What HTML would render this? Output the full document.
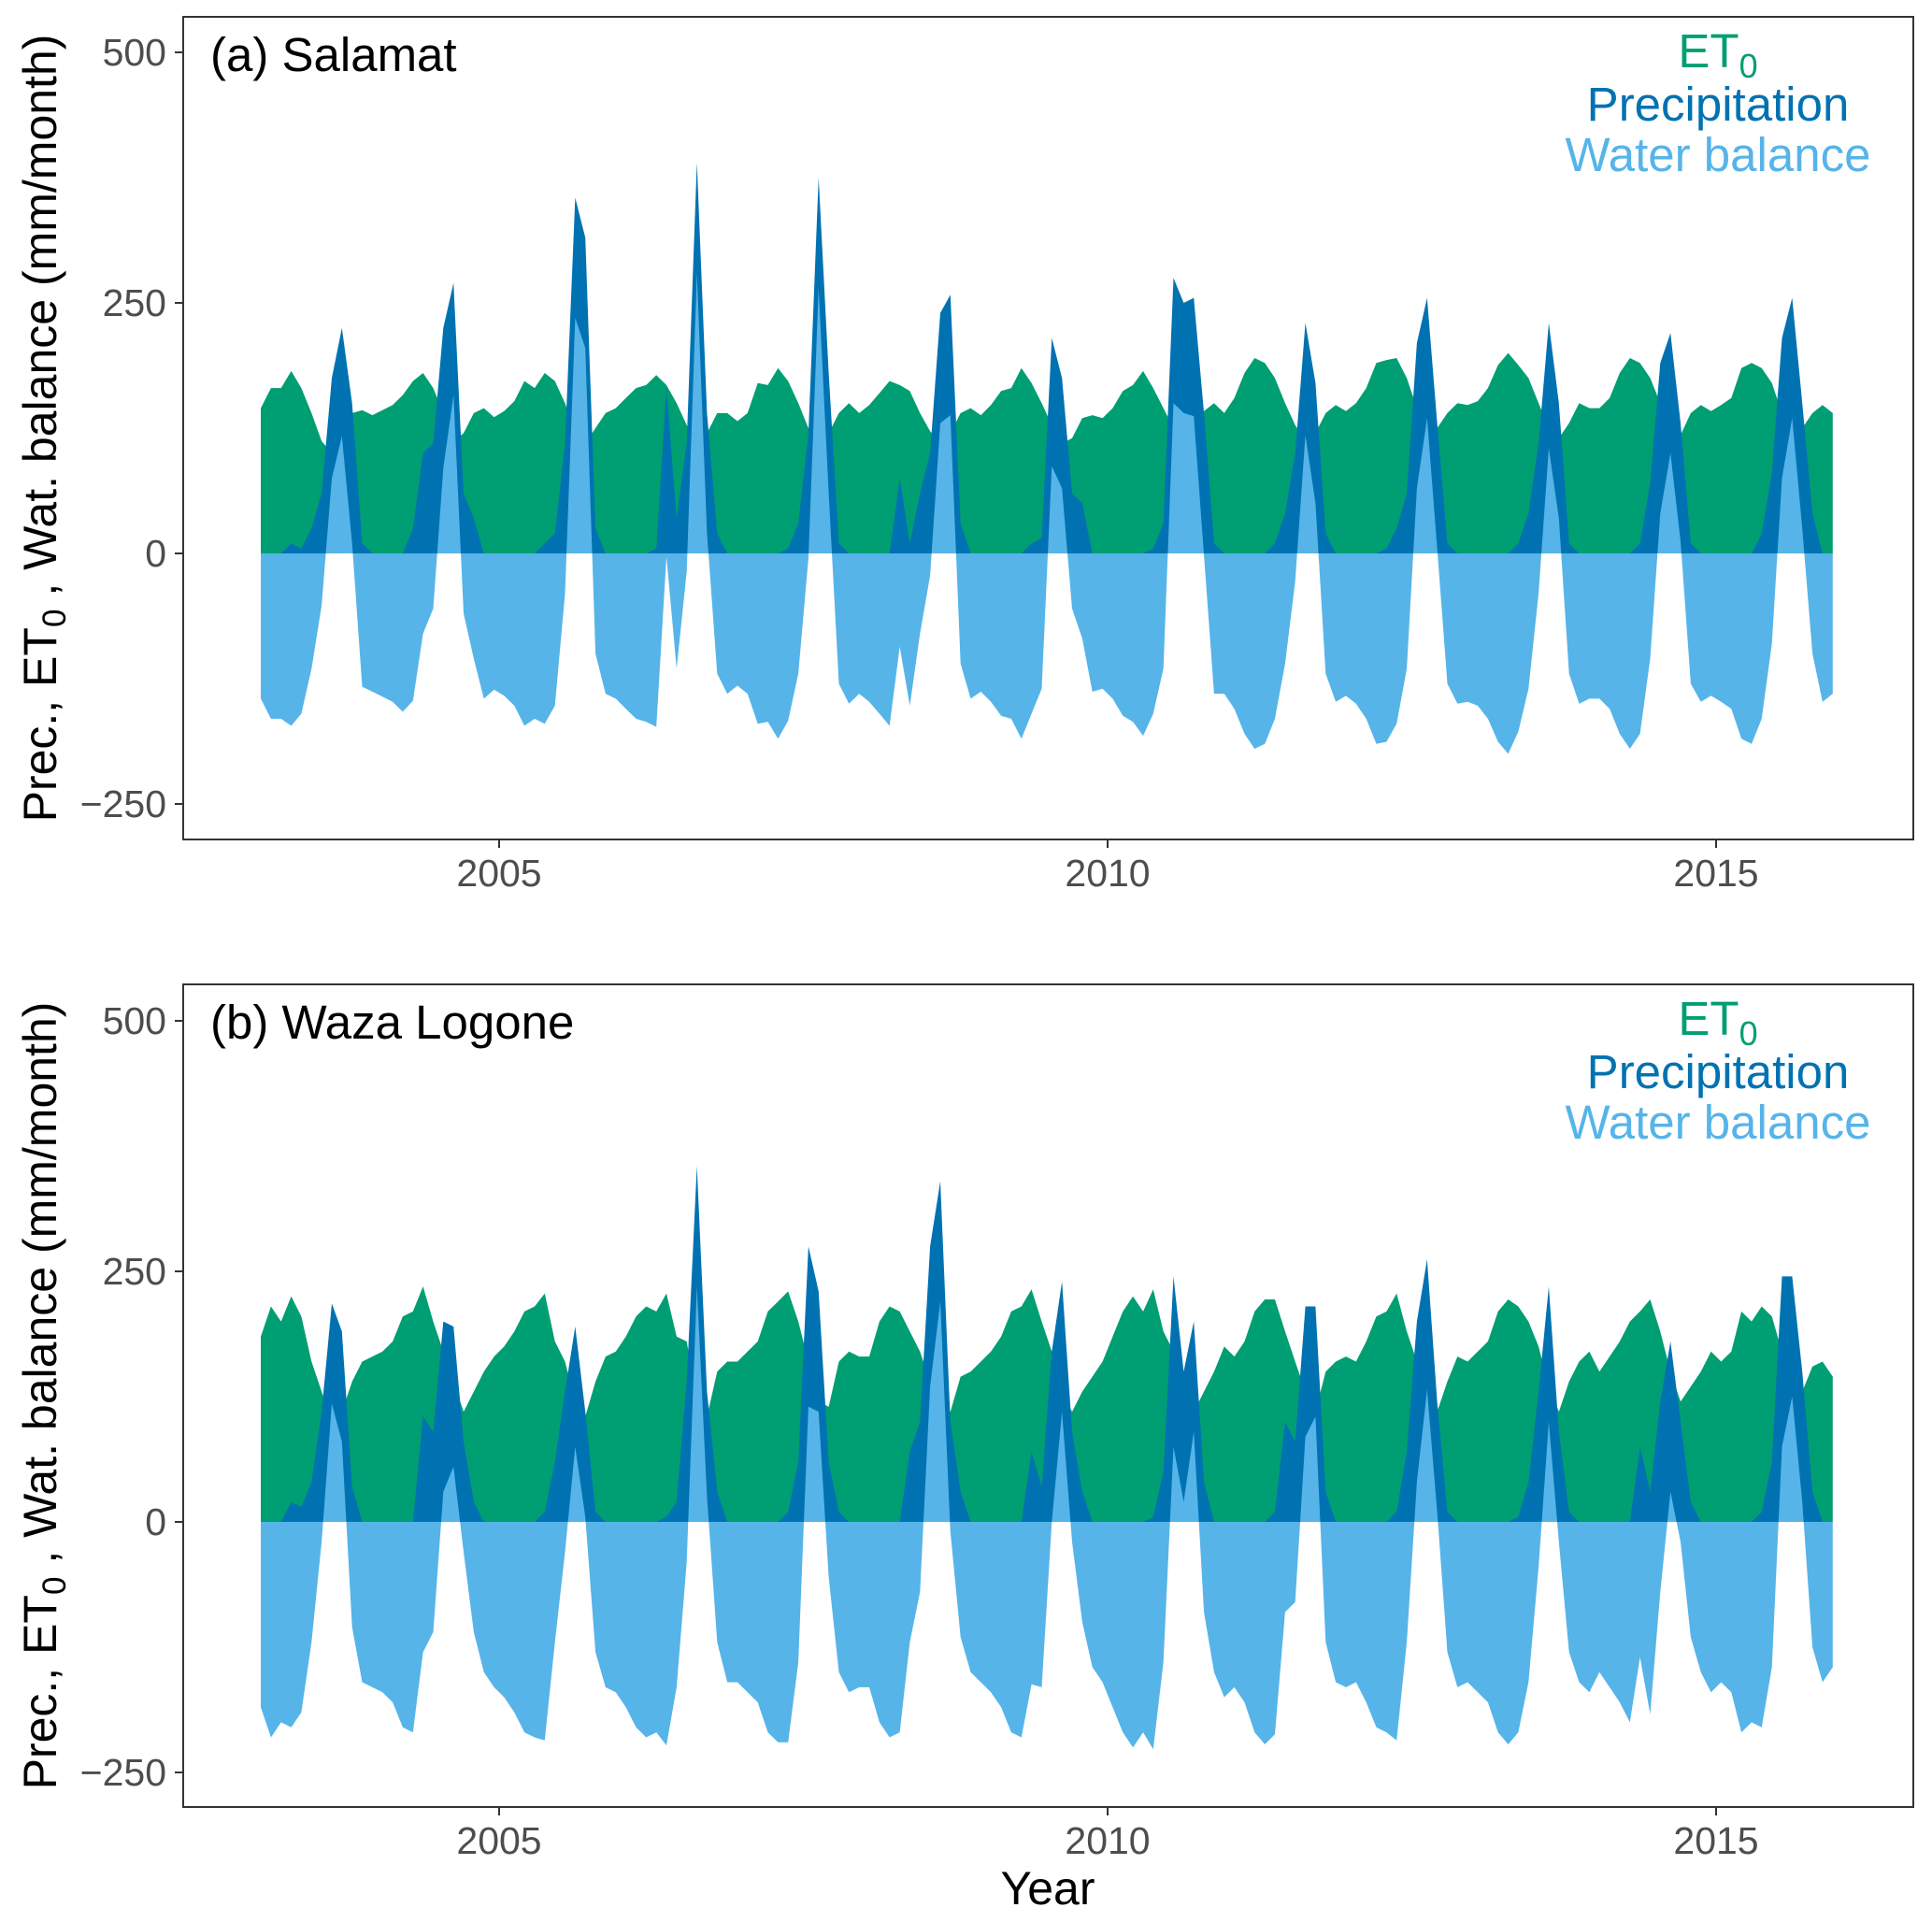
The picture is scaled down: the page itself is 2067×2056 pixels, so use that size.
<!DOCTYPE html>
<html><head><meta charset="utf-8"><style>
html,body{margin:0;padding:0;background:#fff;}
svg{display:block;font-family:"Liberation Sans",sans-serif;}
</style></head><body>
<svg id="chart" width="2067" height="2056" viewBox="0 0 2067 2056" xmlns="http://www.w3.org/2000/svg"></svg>
<script>
const startYear = 2003;
const xTicks = [2005, 2010, 2015];
const yTicks = [-250, 0, 250, 500];
const seriesNames = ["ET\u2080", "Precipitation", "Water balance"];
const panelTitles = ["(a) Salamat", "(b) Waza Logone"];

const salamatET = [
145,165,165,182,165,140,112,100,108,140,143,138,
143,148,158,172,180,165,140,112,120,140,145,136,
142,152,172,165,180,172,150,120,110,125,140,145,
155,165,168,178,168,150,128,110,120,140,140,132,
140,170,168,185,172,150,125,110,120,140,150,140,
148,160,172,168,162,140,122,110,120,140,145,138,
148,162,165,185,170,150,128,110,115,135,138,135,
145,162,168,182,165,145,125,110,118,142,150,140,
155,180,195,190,175,150,128,112,120,140,148,142,
150,165,190,193,195,175,145,120,125,140,150,148,
152,165,188,200,188,175,150,125,115,130,150,145,
145,155,180,195,190,175,150,120,118,140,148,142,
148,155,185,190,185,170,140,120,125,140,148,140];
const salamatP = [
0,0,0,10,5,25,60,175,225,150,10,0,
0,0,0,25,100,110,225,270,60,35,0,0,
0,0,0,0,10,20,110,355,315,25,0,0,
0,0,0,5,165,35,110,390,140,20,0,0,
0,0,0,0,5,30,120,375,180,10,0,0,
0,0,0,75,10,60,100,240,258,30,0,0,
0,0,0,0,10,15,215,175,60,50,0,0,
0,0,0,0,5,30,275,250,255,140,10,0,
0,0,0,0,10,40,100,230,170,20,0,0,
0,0,0,5,25,60,210,255,130,10,0,0,
0,0,0,0,10,40,110,230,150,10,0,0,
0,0,0,0,10,70,190,220,130,10,0,0,
0,0,0,0,20,80,215,255,150,40,0,0];

const wazaET = [
185,215,200,225,205,160,130,100,110,140,160,165,
170,180,205,210,235,200,170,140,110,130,150,165,
175,190,210,215,228,180,160,120,105,140,165,170,
185,205,215,210,228,185,180,120,105,150,160,160,
170,180,210,220,230,200,160,120,115,160,170,165,
165,200,215,210,190,170,140,120,110,145,150,160,
170,185,210,215,232,200,170,130,110,130,145,160,
185,210,225,210,232,190,170,130,110,130,150,175,
165,180,210,222,222,190,160,130,110,150,160,165,
160,180,205,210,228,190,160,130,110,140,165,160,
170,180,210,222,215,200,175,135,110,140,160,170,
150,165,180,200,210,222,190,150,120,135,150,170,
160,170,210,200,215,205,170,120,130,155,160,145];
const wazaP = [
0,0,0,20,15,40,110,218,190,35,0,0,
0,0,0,0,105,90,200,195,80,20,0,0,
0,0,0,0,10,60,130,195,110,10,0,0,
0,0,0,0,5,20,140,355,130,30,0,0,
0,0,0,0,10,60,275,230,60,10,0,0,
0,0,0,0,70,100,275,340,100,30,0,0,
0,0,0,0,70,35,170,240,90,30,0,0,
0,0,0,0,5,50,245,150,200,40,0,0,
0,0,0,0,10,100,80,215,215,30,0,0,
0,0,0,0,10,70,200,262,120,10,0,0,
0,0,0,0,5,40,130,235,90,10,0,0,
0,0,0,0,75,30,120,180,100,20,0,0,
0,0,0,0,10,60,245,245,150,30,0,0];

const NS = "http://www.w3.org/2000/svg";
const svg = document.getElementById("chart");
function mk(tag, attrs, parent) {
  const e = document.createElementNS(NS, tag);
  for (const k in attrs) e.setAttribute(k, attrs[k]);
  (parent || svg).appendChild(e);
  return e;
}
const X0 = 196, X1 = 2047;
function xScale(yr) { return 534 + (yr - 2005) * 130.2; }

function drawPanel(idx, top, bottom, zeroY, pxPerUnit, et, p) {
  const yScale = v => zeroY - v * pxPerUnit;
  const g = mk("g", {});
  
  
  const xs = et.map((_, i) => xScale(startYear + (i + 0.5) / 12));
  const wb = et.map((v, i) => p[i] - v);
  function area(vals, color, name) {
    let d = "M" + xs[0] + "," + yScale(0);
    vals.forEach((v, i) => { d += " L" + xs[i].toFixed(1) + "," + yScale(v).toFixed(1); });
    d += " L" + xs[xs.length - 1] + "," + yScale(0) + " Z";
    const path = mk("path", { d: d, fill: color }, g);
    
    
  }
  area(et, "#009E73", "et0-area");
  area(p, "#0072B2", "precipitation-area");
  area(wb, "#56B4E9", "water-balance-area");
  const frame = mk("rect", { x: X0, y: top, width: X1 - X0, height: bottom - top, fill: "none", stroke: "#333", "stroke-width": 2 }, g);
  
  
  yTicks.forEach(t => {
    const y = yScale(t);
    mk("line", { x1: X0 - 9, x2: X0, y1: y, y2: y, stroke: "#333", "stroke-width": 2 }, g);
    const tx = mk("text", { x: X0 - 18, y: y + 14, "text-anchor": "end", "font-size": 41, fill: "#4d4d4d" }, g);
    tx.textContent = t === -250 ? "\u2212250" : String(t);
    
    
  });
  xTicks.forEach(t => {
    const x = xScale(t);
    mk("line", { x1: x, x2: x, y1: bottom, y2: bottom + 9, stroke: "#333", "stroke-width": 2 }, g);
    const tx = mk("text", { x: x, y: bottom + 50, "text-anchor": "middle", "font-size": 41, fill: "#4d4d4d" }, g);
    tx.textContent = String(t);
    
    
  });
  const title = mk("text", { x: 225, y: top + 58, "font-size": 51, fill: "#000" }, g);
  title.textContent = panelTitles[idx];
  
  
  const lc = 1838;
  const l1 = mk("text", { x: lc, y: top + 54, "text-anchor": "middle", "font-size": 51, fill: "#009E73" }, g);
  l1.innerHTML = 'ET<tspan font-size="36" dy="11">0</tspan>';
  
  
  const l2 = mk("text", { x: lc, y: top + 111, "text-anchor": "middle", "font-size": 51, fill: "#0072B2" }, g);
  l2.textContent = seriesNames[1];
  
  
  const l3 = mk("text", { x: lc, y: top + 165, "text-anchor": "middle", "font-size": 51, fill: "#56B4E9" }, g);
  l3.textContent = seriesNames[2];
  
  
  const cy = (top + bottom) / 2;
  const yt = mk("text", { x: 0, y: 0, "text-anchor": "middle", "font-size": 50, fill: "#000", transform: "translate(60," + cy + ") rotate(-90)" }, g);
  yt.innerHTML = 'Prec., ET<tspan font-size="35" dy="10">0</tspan><tspan dy="-10"> , Wat. balance (mm/month)</tspan>';
  
  
}
drawPanel(0, 18, 898, 592, 268 / 250, salamatET, salamatP);
drawPanel(1, 1053, 1933, 1628, 268 / 250, wazaET, wazaP);
const xt = mk("text", { x: 1121, y: 2037, "text-anchor": "middle", "font-size": 50, fill: "#000" });
xt.textContent = "Year";


</script>
</body></html>
